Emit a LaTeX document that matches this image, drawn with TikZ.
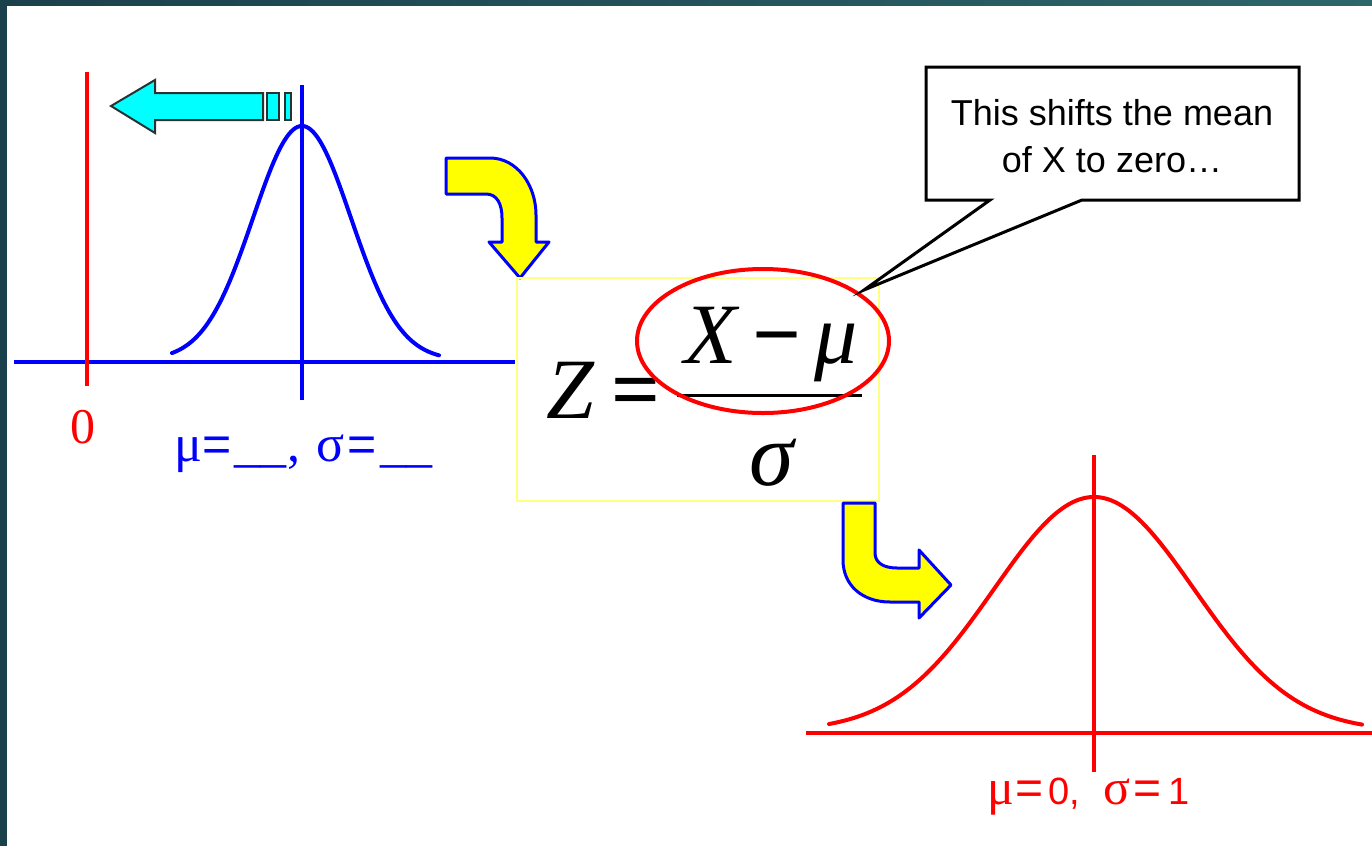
\documentclass[tikz,border=0pt]{standalone}
\usepackage{fontspec}
\setmainfont{Liberation Serif}
\newfontfamily\sansf{Liberation Sans}
\definecolor{tealA}{RGB}{26,64,76}
\definecolor{tealB}{RGB}{46,102,106}
\definecolor{cyanA}{RGB}{0,255,255}
\definecolor{yelA}{RGB}{255,255,0}
\definecolor{boxyel}{RGB}{255,255,130}
\definecolor{redA}{RGB}{255,0,0}
\definecolor{blueA}{RGB}{0,0,255}
\definecolor{grayA}{RGB}{40,50,50}
\tikzset{
  bluel/.style={draw=blueA, line width=4pt},
  redl/.style={draw=redA, line width=4pt},
  yarrow/.style={fill=yelA, draw=blueA, line width=3pt, line join=round},
  carrow/.style={fill=cyanA, draw=grayA, line width=2pt, line join=miter},
  frm/.style={inner sep=0pt, font=\fontsize{86}{86}\selectfont\itshape},
  frmup/.style={inner sep=0pt, font=\fontsize{86}{86}\selectfont\bfseries},
  lbl/.style={inner sep=0pt, anchor=base west},
  bser/.style={lbl, text=blueA, font=\fontsize{52}{52}\selectfont},
  bsan/.style={lbl, text=blueA, font=\sansf\fontsize{50}{50}\selectfont},
  rser/.style={lbl, text=redA, font=\fontsize{50}{50}\selectfont},
  rsan/.style={lbl, text=redA, font=\sansf\fontsize{38}{38}\selectfont},
  rsaneq/.style={lbl, text=redA, font=\sansf\fontsize{48}{48}\selectfont},
  calltxt/.style={inner sep=0pt, anchor=base, font=\sansf\fontsize{36}{36}\selectfont},
}
\begin{document}
\begin{tikzpicture}[x=1pt,y=-1pt]
\useasboundingbox (0,0) rectangle (1372,846);
\fill[white] (0,0) rectangle (1372,846);
% background frame
\fill[tealA] (0,0) rectangle (7,846);
\fill[left color=tealA, right color=tealB] (0,0) rectangle (1372,5);

% ---- left (blue) distribution ----
\draw[bluel] (14,362) -- (515,362);
\draw[bluel] (302,85) -- (302,400);
\draw[redl] (87,72) -- (87,386);
\draw[bluel, line join=round, line cap=round] plot[domain=172:439, samples=120, smooth]
  (\x, {360-234*exp(-0.5*((\x-302)/49)^2)});
\node[lbl, anchor=base, text=redA, font=\fontsize{50}{50}\selectfont] (zero) at (83,443) {0};
\node[bser] (b1) at (174,461) {μ};
\node[bsan] (b2) at (202,461) {=};
\node[bser] (b3) at (234,461) {\_\_};
\node[bser] (b4) at (287,461) {,};
\node[bser] (b5) at (316,461) {σ};
\node[bsan] (b6) at (347,461) {=};
\node[bser] (b7) at (380,461) {\_\_};

% cyan arrow
\draw[carrow] (111,106) -- (155,80) -- (155,93) -- (263,93) -- (263,120) -- (155,120) -- (155,133) -- cycle;
\draw[carrow] (267,93) rectangle (279,120);
\draw[carrow] (285,93) rectangle (291,120);

% yellow curved arrow 1
\draw[yarrow] (446,158) -- (490,158) .. controls (517,158) and (536,185) .. (536,215)
  -- (536,242) -- (549,242) -- (520,278) -- (489,242) -- (502,242) -- (502,218)
  .. controls (502,204) and (497,194) .. (486,194) -- (446,194) -- cycle;

% formula box
\draw[boxyel, line width=1.5pt] (517,278) rectangle (879,501);
\node[frm, anchor=base] (Z) at (570,418) {Z};
\node[frmup, anchor=base] (eq) at (636,418) {=};
\node[frm, anchor=base] (X) at (711,363) {X};
\node[frmup, anchor=base] (minus) at (777,363) {−};
\node[frm, anchor=base] (mu) at (836,363) {μ};
\draw[black, line width=3pt] (677,395) -- (862,395);
\node[frm, anchor=base, font=\fontsize{90}{90}\selectfont\itshape] (sig) at (772,485) {σ};
\draw[redA, line width=4pt] (763,341) ellipse [x radius=126, y radius=72];

% callout
\draw[black, fill=white, line width=3pt, line join=miter]
  (926,67) -- (1299,67) -- (1299,200) -- (1082,200) -- (864,290) -- (990,200) -- (926,200) -- cycle;
\node[calltxt] (c1) at (1112,125) {This shifts the mean};
\node[calltxt] (c2) at (1112,172) {of X to zero…};

% yellow curved arrow 2
\draw[yarrow] (843,503) -- (875,503) -- (875,553) .. controls (875,563) and (884,568) .. (897,568)
  -- (919,568) -- (919,550) -- (951,585) -- (919,618) -- (919,602) -- (890,602)
  .. controls (862,602) and (843,585) .. (843,560) -- cycle;

% ---- right (red) distribution ----
\draw[redl] (806,733) -- (1372,733);
\draw[redl] (1094,455) -- (1094,772);
\draw[redl, line join=round, line cap=round] plot[domain=829:1362, samples=150, smooth]
  (\x, {731-234*exp(-0.5*((\x-1094)/100)^2)});
\node[rser] (r1) at (987,804) {μ};
\node[rsaneq] (r2) at (1015,804) {=};
\node[rsan] (r3) at (1048,804) {0,};
\node[rser] (r5) at (1103,804) {σ};
\node[rsaneq] (r6) at (1133,804) {=};
\node[rsan] (r7) at (1168,804) {1};
\end{tikzpicture}
\end{document}
